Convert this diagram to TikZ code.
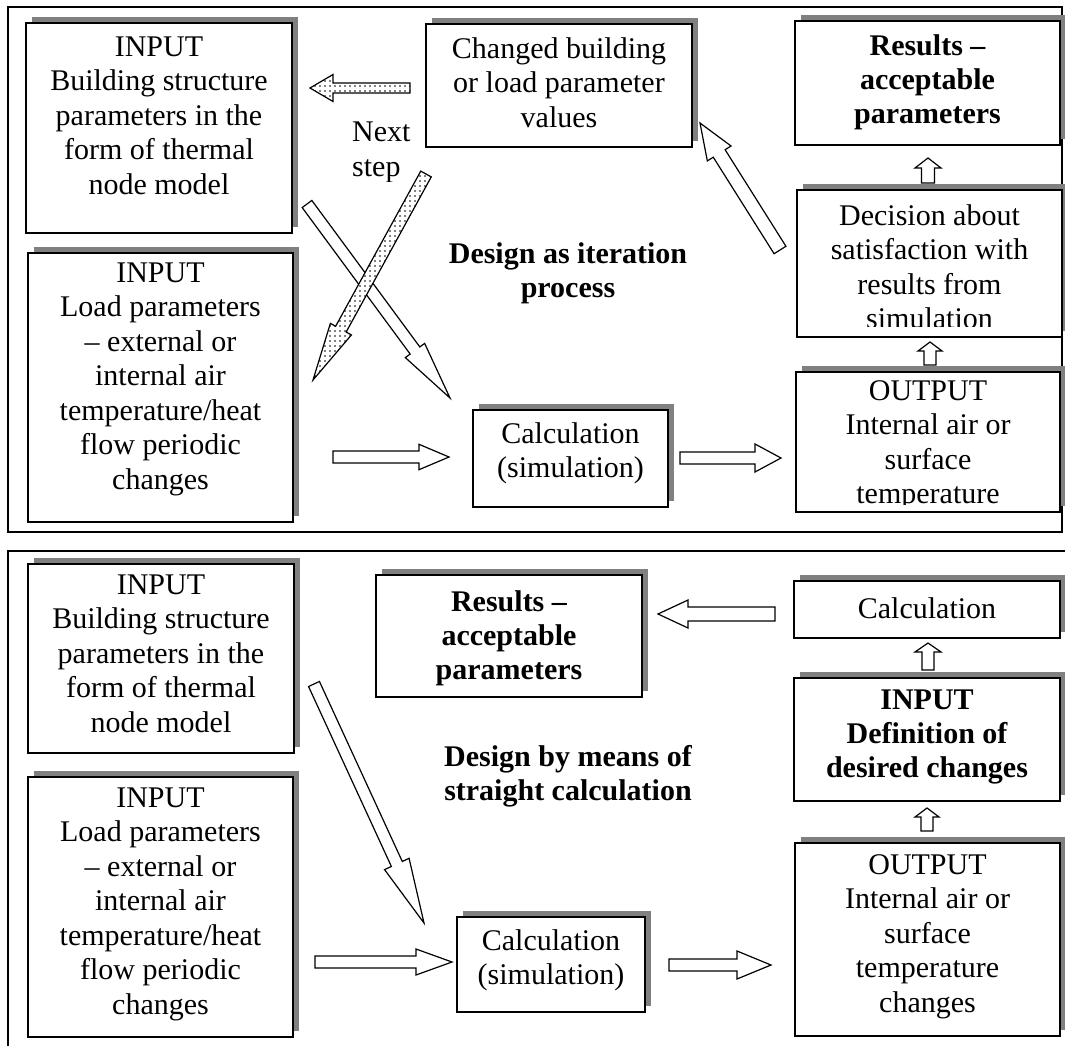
\documentclass[tikz,border=0pt]{standalone}
\usepackage{fontspec}
\setmainfont{Liberation Serif}
\usetikzlibrary{calc,fit,shadows,patterns.meta}
\definecolor{shadowgray}{HTML}{808080}
\tikzset{
 boxst/.style={draw, line width=1.5pt, fill=white, inner sep=0pt,
   drop shadow={shadow xshift=6pt, shadow yshift=6pt, fill=shadowgray, opacity=1}},
 txt/.style={inner sep=0pt, align=center, anchor=north,
   font=\fontsize{30}{34.5}\selectfont, execute at begin node={\rule{0pt}{25pt}}},
 btxt/.style={txt, font=\fontsize{30}{34}\selectfont\bfseries},
 whitearrow/.style={draw, line width=1.2pt, fill=white, line join=miter},
 dotarrow/.style={draw, line width=1.2pt, line join=miter, preaction={fill=white},
   pattern={Dots[distance=5pt,radius=0.9pt]}},
 framest/.style={draw, line width=1.5pt}
}
% #1 style, #2 tail, #3 tip, #4 shaft half width, #5 head half width, #6 head length
\newcommand\blockarrow[6]{%
  \coordinate (#2-base) at ($(#3)!#6pt!(#2)$);
  \draw[#1] ($(#2)!#4pt!90:(#3)$) -- ($(#2-base)!#4pt!90:(#3)$)
    -- ($(#2-base)!#5pt!90:(#3)$) -- (#3)
    -- ($(#2-base)!#5pt!-90:(#3)$) -- ($(#2-base)!#4pt!-90:(#3)$)
    -- ($(#2)!#4pt!-90:(#3)$) -- cycle;
}
\begin{document}
\begin{tikzpicture}[x=1pt,y=-1pt]
\clip (0,0) rectangle (1065,1046);
\fill[white] (0,0) rectangle (1065,1046);

% frames
\draw[framest] (8,7) rectangle (1062,532);
\draw[framest] (8,551) rectangle (1080,1060);

% ---------- top panel ----------
\node[boxst, fit={(26,23)(292,233)}] (A) {};
\node[txt] (At) at ($(A.north)+(0,14)$) {INPUT\\Building structure\\parameters in the\\form of thermal\\node model};

\node[boxst, fit={(28,253)(293,522)}] (B) {};
\node[txt] (Bt) at ($(B.north)+(0,10)$) {INPUT\\Load parameters\\– external or\\internal air\\temperature/heat\\flow periodic\\changes};

\node[boxst, fit={(426,24)(692,147)}] (C) {};
\node[txt] (Ct) at ($(C.north)+(0,14)$) {Changed building\\or load parameter\\values};

\node[boxst, fit={(795,21)(1060,145)}] (D) {};
\node[btxt] (Dt) at ($(D.north)+(0,14)$) {Results –\\acceptable\\parameters};

\node[boxst, fit={(797,190)(1062,337)}] (E) {};
\begin{scope}
\clip (797,190) rectangle (1062,326);
\node[txt] (Et) at ($(E.north)+(0,15)$) {Decision about\\satisfaction with\\results from\\simulation};
\end{scope}

\node[boxst, fit={(796,372)(1060,512)}] (F) {};
\begin{scope}
\clip (796,372) rectangle (1060,504);
\node[txt] (Ft) at ($(F.north)+(0,9)$) {OUTPUT\\Internal air or\\surface\\temperature\\changes};
\end{scope}

\node[boxst, fit={(473,410)(668,507)}] (CT) {};
\node[txt] (CTt) at ($(CT.north)+(0,13)$) {Calculation\\(simulation)};

\node[btxt] (h1) at (568,242) {Design as iteration\\process};

\begin{scope}
\clip (330,100) rectangle (425,181);
\node[txt, align=left, anchor=north west] (ns) at (352,122) {Next\\step};
\end{scope}

% top arrows
\coordinate (t1) at (410,88);   \coordinate (p1) at (310,88);
\coordinate (t2) at (426,174);  \coordinate (p2) at (313,380);
\coordinate (t3) at (307,204);  \coordinate (p3) at (450,398);
\coordinate (t4) at (333,457);  \coordinate (p4) at (449,457);
\coordinate (t5) at (680,458);  \coordinate (p5) at (781,458);
\coordinate (t6) at (930,365);  \coordinate (p6) at (930,342);
\coordinate (t7) at (928,183);  \coordinate (p7) at (928,158);
\coordinate (t8) at (780,250);  \coordinate (p8) at (700,123);

\blockarrow{dotarrow}{t1}{p1}{5}{13.5}{23}
\blockarrow{whitearrow}{t3}{p3}{6}{12}{59}
\blockarrow{dotarrow}{t2}{p2}{6}{12}{58}
\blockarrow{whitearrow}{t4}{p4}{6}{12.7}{30}
\blockarrow{whitearrow}{t5}{p5}{6}{14}{26}
\blockarrow{whitearrow}{t6}{p6}{6}{12}{9}
\blockarrow{whitearrow}{t7}{p7}{6.5}{13}{10}
\blockarrow{whitearrow}{t8}{p8}{7}{14}{36}

% ---------- bottom panel ----------
\node[boxst, fit={(28,564)(294,753)}] (G) {};
\node[txt] (Gt) at ($(G.north)+(0,11)$) {INPUT\\Building structure\\parameters in the\\form of thermal\\node model};

\node[boxst, fit={(28,777)(293,1037)}] (H) {};
\node[txt] (Ht) at ($(H.north)+(0,11)$) {INPUT\\Load parameters\\– external or\\internal air\\temperature/heat\\flow periodic\\changes};

\node[boxst, fit={(376,575)(642,697)}] (R2) {};
\node[btxt] (R2t) at ($(R2.north)+(0,16)$) {Results –\\acceptable\\parameters};

\node[boxst, fit={(794,581)(1060,638)}] (K) {};
\node[txt] (Kt) at ($(K.north)+(0,13)$) {Calculation};

\node[boxst, fit={(794,678)(1060,801)}] (ID) {};
\node[btxt] (IDt) at ($(ID.north)+(0,12)$) {INPUT\\Definition of\\desired changes};

\node[boxst, fit={(795,843)(1060,1036)}] (O2) {};
\node[txt] (O2t) at ($(O2.north)+(0,12)$) {OUTPUT\\Internal air or\\surface\\temperature\\changes};

\node[boxst, fit={(457,917)(645,1012)}] (CS) {};
\node[txt] (CSt) at ($(CS.north)+(0,13)$) {Calculation\\(simulation)};

\node[btxt] (h2) at (568,745) {Design by means of\\straight calculation};

% bottom arrows
\coordinate (t9) at (314,684);   \coordinate (p9) at (424,923);
\coordinate (t10) at (315,962);  \coordinate (p10) at (452,962);
\coordinate (t11) at (669,965);  \coordinate (p11) at (771,965);
\coordinate (t12) at (927,831);  \coordinate (p12) at (927,808);
\coordinate (t13) at (928,670);  \coordinate (p13) at (928,643);
\coordinate (t14) at (775,614);  \coordinate (p14) at (658,614);

\blockarrow{whitearrow}{t9}{p9}{6}{13.5}{65}
\blockarrow{whitearrow}{t10}{p10}{6}{13}{36}
\blockarrow{whitearrow}{t11}{p11}{6}{14}{34}
\blockarrow{whitearrow}{t12}{p12}{6}{12}{9}
\blockarrow{whitearrow}{t13}{p13}{6}{13}{9}
\blockarrow{whitearrow}{t14}{p14}{7}{14}{30}
\end{tikzpicture}
\end{document}
